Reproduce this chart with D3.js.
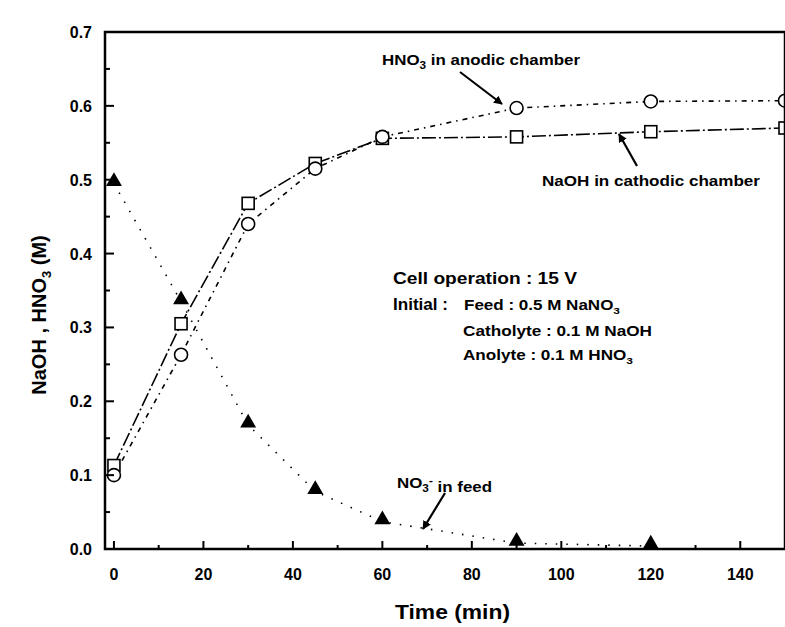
<!DOCTYPE html>
<html lang="en">
<head>
  <meta charset="UTF-8">
  <title>NaOH / HNO3 vs time</title>
  <script src="https://d3js.org/d3.v7.min.js"></script>
  <style>
    body { margin: 0; background: #fff; }
    svg text { font-family: "Liberation Sans", Arial, sans-serif; font-weight: bold; fill: #000; }
  </style>
</head>
<body>
  <svg id="chart" width="785" height="627"></svg>
  <script>
    // time points (min)
    const times = [0, 15, 30, 45, 60, 90, 120, 150];
    const naohValues = [0.113, 0.305, 0.468, 0.522, 0.556, 0.558, 0.565, 0.57];
    const hno3Values = [0.1, 0.263, 0.44, 0.515, 0.558, 0.597, 0.606, 0.607];
    const feedTimes = [0, 15, 30, 45, 60, 90, 120];
    const feedValues = [0.495, 0.335, 0.168, 0.078, 0.037, 0.008, 0.004];
    const xTicks = [0, 20, 40, 60, 80, 100, 120, 140];
    const yTicks = [0.0, 0.1, 0.2, 0.3, 0.4, 0.5, 0.6, 0.7];

    const svg = d3.select("#chart");
    const x = d3.scaleLinear().domain([-2, 150]).range([105, 785]);
    const y = d3.scaleLinear().domain([0, 0.7]).range([549, 32]);

    const naoh = times.map((t, i) => ({ t, v: naohValues[i] }));
    const hno3 = times.map((t, i) => ({ t, v: hno3Values[i] }));
    const feed = feedTimes.map((t, i) => ({ t, v: feedValues[i] }));

    const line = d3.line().x(d => x(d.t)).y(d => y(d.v));

    // lines
    svg.append("path").datum(feed).attr("d", line)
      .attr("fill", "none").attr("stroke", "#000").attr("stroke-width", 1.6)
      .attr("stroke-dasharray", "1.5,9");
    svg.append("path").datum(hno3).attr("d", line)
      .attr("fill", "none").attr("stroke", "#000").attr("stroke-width", 1.6)
      .attr("stroke-dasharray", "5,5,1.5,5");
    svg.append("path").datum(naoh).attr("d", line)
      .attr("fill", "none").attr("stroke", "#000").attr("stroke-width", 1.6)
      .attr("stroke-dasharray", "14,3,2,3");

    // markers
    svg.selectAll(".sq").data(naoh).enter().append("rect")
      .attr("x", d => x(d.t) - 6).attr("y", d => y(d.v) - 6)
      .attr("width", 12).attr("height", 12)
      .attr("fill", "#fff").attr("stroke", "#000").attr("stroke-width", 1.6);
    svg.selectAll(".ci").data(hno3).enter().append("circle")
      .attr("cx", d => x(d.t)).attr("cy", d => y(d.v)).attr("r", 6.5)
      .attr("fill", "#fff").attr("stroke", "#000").attr("stroke-width", 1.6);
    const tri = d3.symbol().type(d3.symbolTriangle).size(110);
    svg.selectAll(".tr").data(feed).enter().append("path")
      .attr("d", tri)
      .attr("transform", d => `translate(${x(d.t)},${y(d.v) - 2})`)
      .attr("fill", "#000");

    // frame
    svg.append("rect").attr("x", 105).attr("y", 32).attr("width", 680).attr("height", 517)
      .attr("fill", "none").attr("stroke", "#000").attr("stroke-width", 2.5);

    // ticks (inward)
    const xMinor = d3.range(10, 150, 20);
    svg.selectAll(".xt").data(xTicks).enter().append("line")
      .attr("x1", d => x(d)).attr("x2", d => x(d)).attr("y1", 549).attr("y2", 541)
      .attr("stroke", "#000").attr("stroke-width", 2);
    svg.selectAll(".xm").data(xMinor).enter().append("line")
      .attr("x1", d => x(d)).attr("x2", d => x(d)).attr("y1", 549).attr("y2", 545)
      .attr("stroke", "#000").attr("stroke-width", 2);
    const yMinor = d3.range(0.05, 0.7, 0.1);
    svg.selectAll(".yt").data(yTicks).enter().append("line")
      .attr("x1", 105).attr("x2", 114).attr("y1", d => y(d)).attr("y2", d => y(d))
      .attr("stroke", "#000").attr("stroke-width", 2);
    svg.selectAll(".ym").data(yMinor).enter().append("line")
      .attr("x1", 105).attr("x2", 110).attr("y1", d => y(d)).attr("y2", d => y(d))
      .attr("stroke", "#000").attr("stroke-width", 2);

    // tick labels
    svg.selectAll(".xl").data(xTicks).enter().append("text")
      .attr("x", d => x(d)).attr("y", 580).attr("text-anchor", "middle")
      .attr("font-size", 16).text(d => d);
    svg.selectAll(".yl").data(yTicks).enter().append("text")
      .attr("x", 92).attr("y", d => y(d) + 6).attr("text-anchor", "end")
      .attr("font-size", 16).text(d => d.toFixed(1));

    // axis titles
    svg.append("text").attr("x", 395).attr("y", 619)
      .attr("font-size", 21).attr("textLength", 115).attr("lengthAdjust", "spacingAndGlyphs")
      .text("Time (min)");
    const yl = svg.append("text").attr("transform", "translate(46,315) rotate(-90)")
      .attr("text-anchor", "middle").attr("font-size", 20);
    yl.append("tspan").text("NaOH , HNO");
    yl.append("tspan").attr("font-size", 13).attr("dy", 5).text("3");
    yl.append("tspan").attr("dy", -5).text(" (M)");

    // annotations
    function label(px, py, size, len, parts) {
      const t = svg.append("text").attr("x", px).attr("y", py).attr("font-size", size)
        .attr("textLength", len).attr("lengthAdjust", "spacingAndGlyphs");
      parts.forEach(p => {
        const s = t.append("tspan").text(p[0]);
        if (p[1] === "sub") s.attr("font-size", size * 0.7).attr("dy", 4);
        if (p[1] === "back") s.attr("dy", -4);
        if (p[1] === "sup") s.attr("font-size", size * 0.7).attr("dy", -8);
        if (p[1] === "down") s.attr("dy", 8);
      });
      return t;
    }
    label(382, 65, 15, 198, [["HNO"], ["3", "sub"], [" in anodic chamber", "back"]]);
    label(542, 186, 15, 218, [["NaOH in cathodic chamber"]]);
    label(393, 284, 17, 184, [["Cell operation : 15 V"]]);
    label(393, 310, 17, 55, [["Initial :"]]);
    label(464, 310, 14, 156, [["Feed : 0.5 M NaNO"], ["3", "sub"]]);
    label(463, 336, 14, 189, [["Catholyte : 0.1 M NaOH"]]);
    label(463, 360, 14, 170, [["Anolyte : 0.1 M HNO"], ["3", "sub"]]);
    label(397, 488, 15, 95, [["NO"], ["3", "sub"], ["-", "sup"], [" in feed", "down"]]);

    // arrows
    svg.append("defs").append("marker").attr("id", "ah")
      .attr("viewBox", "0 0 10 10").attr("refX", 9).attr("refY", 5)
      .attr("markerWidth", 4).attr("markerHeight", 4).attr("orient", "auto")
      .append("path").attr("d", "M0,0 L10,5 L0,10 z").attr("fill", "#000");
    const arrows = [[460, 72, 502, 104], [637, 166, 619, 134], [445, 493, 423, 529]];
    arrows.forEach(a => {
      svg.append("line").attr("x1", a[0]).attr("y1", a[1]).attr("x2", a[2]).attr("y2", a[3])
        .attr("stroke", "#000").attr("stroke-width", 2.2).attr("marker-end", "url(#ah)");
    });
  </script>
</body>
</html>
